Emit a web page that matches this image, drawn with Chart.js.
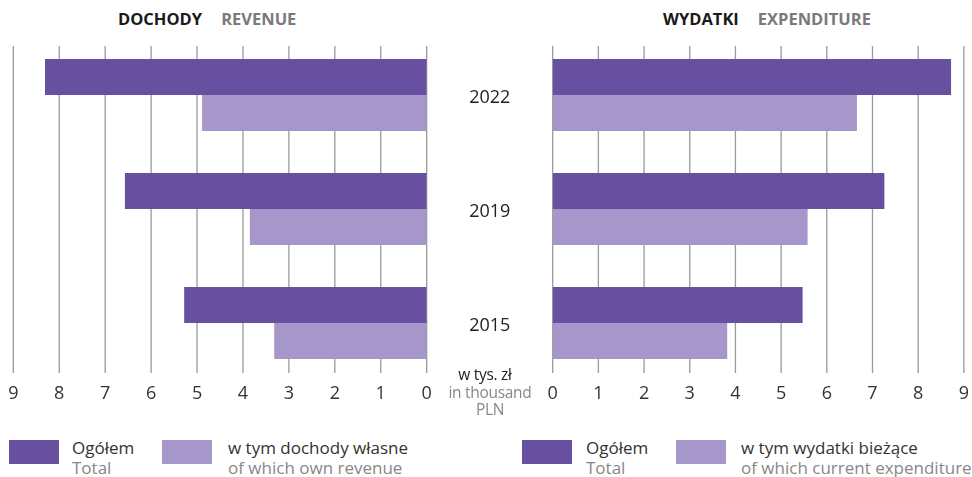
<!DOCTYPE html>
<html>
<head>
<meta charset="utf-8">
<script src="https://cdn.jsdelivr.net/npm/chart.js@4.4.0/dist/chart.umd.min.js"></script>
<style>
  body { margin: 0; background: #fff; font-family: 'Open Sans', sans-serif; }
  #page { position: relative; width: 972px; height: 477px; overflow: hidden; }
  .box { position: absolute; }
  .title { position: absolute; top: 9px; font-size: 16.5px; line-height: 20px; font-weight: 700; white-space: nowrap; }
  .title .en { color: #7a7a7a; margin-left: 19px; }
  .title .pl { color: #1a1a1a; }
  .swatch { position: absolute; top: 440px; width: 50px; height: 24px; }
  .lg { position: absolute; top: 438px; font-size: 17px; line-height: 20px; color: #333; white-space: nowrap; }
  .lg span { display: block; color: #888; }
  #unit { position: absolute; left: 430px; top: 366px; width: 120px; text-align: center; font-size: 15.5px; line-height: 17.5px; color: #888; letter-spacing: -0.3px; }
  #unit b { font-weight: 400; color: #222; display: block; margin-right: 10px; }
</style>
</head>
<body>
<div id="page">
  <div class="title" style="left:118px"><span class="pl">DOCHODY</span><span class="en">REVENUE</span></div>
  <div class="title" style="left:663px"><span class="pl">WYDATKI</span><span class="en">EXPENDITURE</span></div>

  <div class="box" style="left:0;top:0;width:553px;height:420px"><canvas id="revChart"></canvas></div>
  <div class="box" style="left:540px;top:0;width:432px;height:420px"><canvas id="expChart"></canvas></div>

  <div id="unit"><b>w tys. zł</b>in thousand<br>PLN</div>

  <div class="swatch" style="left:9px;background:#6750A0"></div>
  <div class="lg" style="left:72px">Ogółem<span>Total</span></div>
  <div class="swatch" style="left:162px;background:#A597C9"></div>
  <div class="lg" style="left:228px">w tym dochody własne<span>of which own revenue</span></div>

  <div class="swatch" style="left:522px;background:#6750A0"></div>
  <div class="lg" style="left:586px">Ogółem<span>Total</span></div>
  <div class="swatch" style="left:676px;background:#A597C9"></div>
  <div class="lg" style="left:741px">w tym wydatki bieżące<span>of which current expenditure</span></div>
</div>

<script>
// data (thousand PLN)
const years = ['2022', '2019', '2015'];
const revenueTotal = [8.31, 6.57, 5.28];
const revenueOwn = [4.89, 3.85, 3.32];
const expenditureTotal = [8.72, 7.26, 5.47];
const expenditureCurrent = [6.66, 5.58, 3.82];

const DARK = '#6750A0';
const LIGHT = '#A597C9';

// vertical grid lines drawn under the bars, a bit shorter than the plot area
const gridPlugin = {
  id: 'shortGrid',
  beforeDatasetsDraw(chart) {
    const { ctx, chartArea, scales: { x } } = chart;
    ctx.save();
    ctx.strokeStyle = '#9a9a9a';
    ctx.lineWidth = 1.3;
    x.ticks.forEach((t, i) => {
      const px = x.getPixelForTick(i);
      ctx.beginPath();
      ctx.moveTo(px, chartArea.top + 8);
      ctx.lineTo(px, chartArea.bottom - 7);
      ctx.stroke();
    });
    ctx.restore();
  }
};

const makeDatasets = (total, part) => [
  { data: total, backgroundColor: DARK, categoryPercentage: 0.632, barPercentage: 1.0 },
  { data: part, backgroundColor: LIGHT, categoryPercentage: 0.632, barPercentage: 1.0 }
];

const xAxis = (reverse) => ({
  min: 0,
  max: 9,
  reverse,
  grid: { display: false, drawTicks: false },
  border: { display: false },
  ticks: { stepSize: 1, padding: 3, color: '#333', font: { family: 'Open Sans', size: 18 } },
  afterFit: (s) => { s.height = 40; }
});

new Chart(document.getElementById('revChart'), {
  type: 'bar',
  data: { labels: years, datasets: makeDatasets(revenueTotal, revenueOwn) },
  options: {
    indexAxis: 'y',
    responsive: true,
    maintainAspectRatio: false,
    animation: false,
    layout: { padding: { left: 13.3, top: 38, right: 0, bottom: 0 } },
    plugins: { legend: { display: false }, tooltip: { enabled: false } },
    scales: {
      x: xAxis(true),
      y: {
        position: 'right',
        grid: { display: false, drawTicks: false },
        border: { display: false },
        ticks: { crossAlign: 'center', padding: 42.5, labelOffset: 3, color: '#222', font: { family: 'Open Sans', size: 18 } },
        afterFit: (s) => {
          // the year labels sit in the gap between the two panels
          s.width = 126.3;
          s.paddingTop = 0;
          s.paddingBottom = 0;
        }
      }
    }
  },
  plugins: [gridPlugin]
});

new Chart(document.getElementById('expChart'), {
  type: 'bar',
  data: { labels: years, datasets: makeDatasets(expenditureTotal, expenditureCurrent) },
  options: {
    indexAxis: 'y',
    responsive: true,
    maintainAspectRatio: false,
    animation: false,
    layout: { padding: { left: 12.7, top: 38, right: 6, bottom: 0 } },
    plugins: { legend: { display: false }, tooltip: { enabled: false } },
    scales: {
      x: xAxis(false),
      y: { display: false }
    }
  },
  plugins: [gridPlugin]
});
</script>
</body>
</html>
